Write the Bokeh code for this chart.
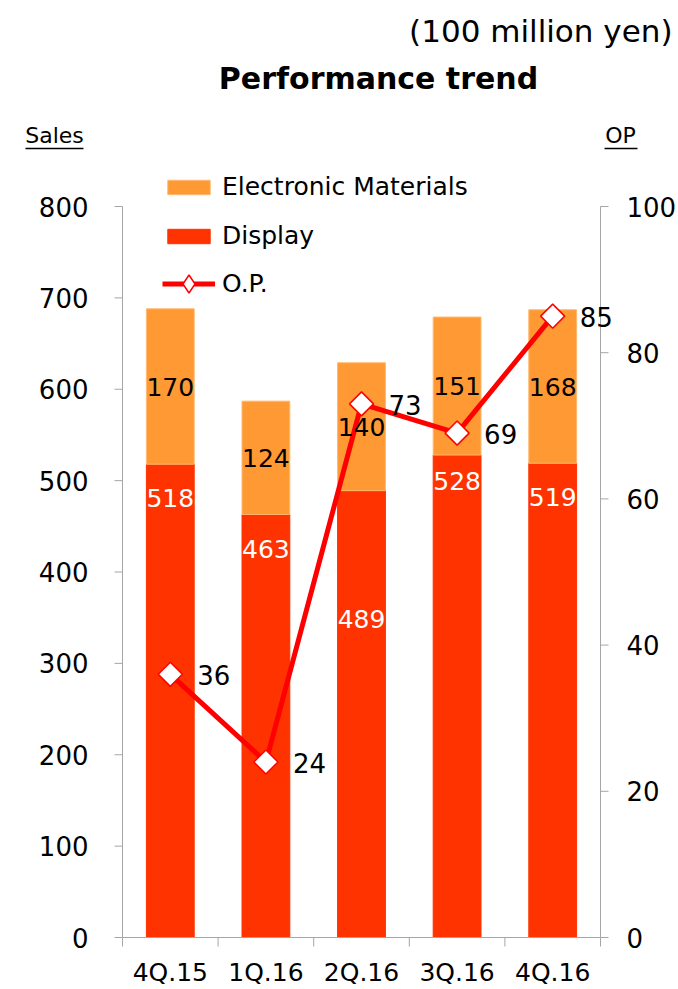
import math
from bokeh.plotting import figure
from bokeh.models import (ColumnDataSource, Range1d, LabelSet,
                          Label, Legend, LegendItem, Arrow)
from bokeh.core.properties import value
from bokeh.embed import file_html
from bokeh.resources import INLINE

# ---------------- data ----------------
quarters = ["4Q.15", "1Q.16", "2Q.16", "3Q.16", "4Q.16"]
display_sales = [518, 463, 489, 528, 519]
electronic_sales = [170, 124, 140, 151, 168]
op_values = [36, 24, 73, 69, 85]
sales_ticks = [0, 100, 200, 300, 400, 500, 600, 700, 800]
op_ticks = [0, 20, 40, 60, 80, 100]

# ---------------- style ----------------
FONT = "DejaVu Sans"
C_DISPLAY = "#FF3300"
C_ELEC = "#FF9933"
C_LINE = "#FF0000"
AXIS_GRAY = "#A6A6A6"
disp_label_drop = [-34, -35, -128, -26, -34]   # screen px offsets of the white labels

# plot geometry (canvas px): category area 122..600, value 0 at y=937, 800 at y=206
W, H = 678, 989
PX_PER_CAT = 95.6
PX_PER_SALES = 731 / 800
X_START = -122 / PX_PER_CAT
X_END = len(quarters) + (W - 600) / PX_PER_CAT
Y_START = -(H - 937) / PX_PER_SALES
Y_END = 937 / PX_PER_SALES
OP_SCALE = sales_ticks[-1] / op_ticks[-1]
TICK_LEN_X = 8 / PX_PER_CAT
TICK_LEN_Y = 9 / PX_PER_SALES
CAT_LABEL_Y = -35 / PX_PER_SALES

n = len(quarters)
centers = [i + 0.5 for i in range(n)]
bounds = list(range(n + 1))
stack_top = [d + e for d, e in zip(display_sales, electronic_sales)]
elec_mid = [d + e / 2 for d, e in zip(display_sales, electronic_sales)]

src = ColumnDataSource(dict(
    x=centers, q=quarters, disp=display_sales, elec=electronic_sales, top=stack_top,
    elec_mid=elec_mid, op=op_values,
    disp_txt=[str(v) for v in display_sales],
    elec_txt=[str(v) for v in electronic_sales],
    op_txt=[str(v) for v in op_values],
    disp_off=disp_label_drop,
))

p = figure(width=W, height=H, output_backend="svg", toolbar_location=None,
           x_range=Range1d(X_START, X_END), y_range=Range1d(Y_START, Y_END),
           x_axis_location=None, y_axis_location=None,
           min_border_left=0, min_border_right=0, min_border_top=0, min_border_bottom=0)
p.extra_y_ranges = {"op": Range1d(Y_START / OP_SCALE, Y_END / OP_SCALE)}
p.outline_line_color = None
p.xgrid.visible = False
p.ygrid.visible = False
p.background_fill_color = "white"
p.border_fill_color = "white"

# bars
r_disp = p.vbar(x="x", bottom=0, top="disp", width=0.5, source=src,
                fill_color=C_DISPLAY, line_color=C_DISPLAY)
r_elec = p.vbar(x="x", bottom="disp", top="top", width=0.5, source=src,
                fill_color=C_ELEC, line_color="#FFB870", line_width=1)

# category axis
p.segment(x0=bounds[0], y0=0, x1=bounds[-1], y1=0, line_color=AXIS_GRAY, line_width=1)
p.segment(x0=bounds, y0=[0] * len(bounds), x1=bounds, y1=[-TICK_LEN_Y] * len(bounds),
          line_color=AXIS_GRAY, line_width=1)
p.text(x=centers, y=[CAT_LABEL_Y] * n, text=quarters, text_align="center",
       text_baseline="middle", text_font=value(FONT), text_font_size="25px", text_color="black")

# left value axis (Sales)
p.segment(x0=0, y0=sales_ticks[0], x1=0, y1=sales_ticks[-1], line_color=AXIS_GRAY, line_width=1)
p.segment(x0=[-TICK_LEN_X] * len(sales_ticks), y0=sales_ticks, x1=[0] * len(sales_ticks),
          y1=sales_ticks, line_color=AXIS_GRAY, line_width=1)
p.text(x=[0] * len(sales_ticks), y=sales_ticks, text=[str(t) for t in sales_ticks],
       x_offset=-34, text_align="right", text_baseline="middle",
       text_font=value(FONT), text_font_size="26px", text_color="black")

# right value axis (OP)
p.segment(x0=n, y0=op_ticks[0], x1=n, y1=op_ticks[-1], y_range_name="op",
          line_color=AXIS_GRAY, line_width=1)
p.segment(x0=[n] * len(op_ticks), y0=op_ticks, x1=[n + TICK_LEN_X] * len(op_ticks), y1=op_ticks,
          y_range_name="op", line_color=AXIS_GRAY, line_width=1)
p.text(x=[n] * len(op_ticks), y=op_ticks, text=[str(t) for t in op_ticks], y_range_name="op",
       x_offset=26, text_align="left", text_baseline="middle",
       text_font=value(FONT), text_font_size="26px", text_color="black")

# OP line
r_line = p.line(x="x", y="op", source=src, y_range_name="op", line_color=C_LINE, line_width=5)
r_pts = p.scatter(x="x", y="op", source=src, y_range_name="op", marker="square", size=17,
                  angle=math.pi / 4, fill_color="white", line_color=C_LINE, line_width=1.5)
# legend-only marker: one point placed far outside the visible range, used for the legend swatch
r_leg_marker = p.scatter(x=[X_END * 10], y=[op_values[0]], y_range_name="op", marker="diamond",
                         size=20, fill_color="white", line_color=C_LINE, line_width=1.5)

# data labels
p.add_layout(LabelSet(x="x", y="elec_mid", text="elec_txt", source=src, text_align="center",
                      text_baseline="middle", text_font=value(FONT), text_font_size="25px",
                      text_color="black"))
p.add_layout(LabelSet(x="x", y="disp", text="disp_txt", source=src, y_offset="disp_off",
                      text_align="center", text_baseline="middle", text_font=value(FONT),
                      text_font_size="25px", text_color="white"))
p.add_layout(LabelSet(x="x", y="op", text="op_txt", source=src, y_range_name="op",
                      x_offset=27, y_offset=-1, text_align="left", text_baseline="middle",
                      text_font=value(FONT), text_font_size="26px", text_color="black"))

# legends
leg1 = Legend(items=[LegendItem(label="Electronic Materials", renderers=[r_elec]),
                     LegendItem(label="Display", renderers=[r_disp])],
              location=(162, 687 + H - 937), glyph_width=53, glyph_height=18, label_height=29,
              spacing=20, padding=0, margin=0, label_standoff=7,
              border_line_color=None, background_fill_alpha=0,
              label_text_font=FONT, label_text_font_size="25px", label_text_color="black",
              label_text_baseline="middle")
leg2 = Legend(items=[LegendItem(label="O.P.", renderers=[r_line, r_leg_marker])],
              location=(162, 683), glyph_width=53, glyph_height=45, label_height=29,
              padding=0, margin=0, label_standoff=7,
              border_line_color=None, background_fill_alpha=0,
              label_text_font=FONT, label_text_font_size="25px", label_text_color="black",
              label_text_baseline="middle")
p.add_layout(leg1)
p.add_layout(leg2)

# texts around the chart
p.add_layout(Label(x=5.753, y=992.6, text="(100 million yen)", text_align="right",
                   text_baseline="middle", text_font=FONT, text_font_size="31px",
                   text_color="black"))
p.add_layout(Label(x=2.678, y=940.1, text="Performance trend", text_align="center",
                   text_baseline="middle", text_font=FONT, text_font_size="30px",
                   text_font_style="bold", text_color="black"))
p.add_layout(Label(x=-0.711, y=877.7, text="Sales", text_align="center",
                   text_baseline="middle", text_font=FONT, text_font_size="22px",
                   text_color="black"))
p.add_layout(Label(x=5.209, y=877.7, text="OP", text_align="center",
                   text_baseline="middle", text_font=FONT, text_font_size="22px",
                   text_color="black"))
p.add_layout(Arrow(end=None, x_start=-1.015, y_start=863.5, x_end=-0.408, y_end=863.5,
                   line_color="black", line_width=1.5))
p.add_layout(Arrow(end=None, x_start=5.042, y_start=863.5, x_end=5.387, y_end=863.5,
                   line_color="black", line_width=1.5))

open("out.html", "w").write(file_html(p, INLINE))
